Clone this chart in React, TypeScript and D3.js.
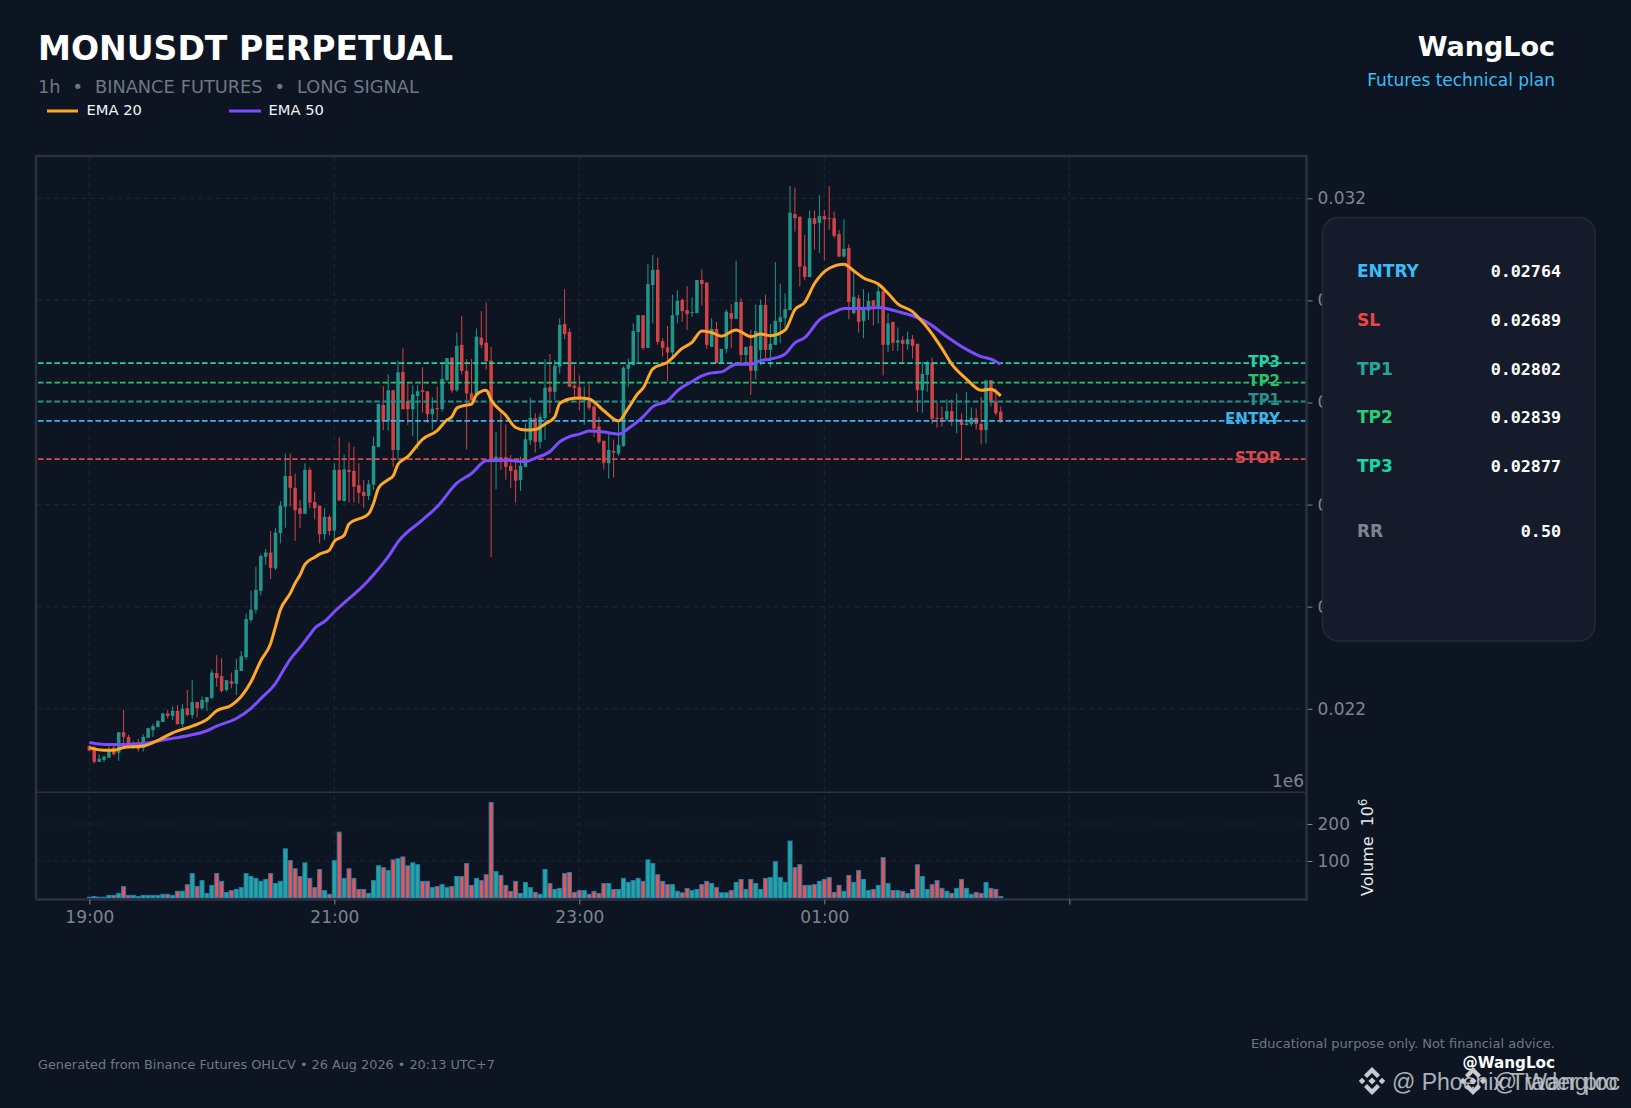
import { useEffect, useRef } from 'react';
import * as d3 from 'd3';

// all prices below are in 1e-5 USDT, volumes in 1e6
const opens = [
  2127,2124,2096,2100,2104,2124,2114,2154,2145,2127,
  2134,2123,2143,2158,2164,2174,2191,2186,2196,2170,
  2201,2188,2213,2201,2213,2221,2270,2264,2237,2254,
  2249,2274,2301,2374,2394,2431,2498,2506,2475,2544,
  2596,2656,2633,2593,2582,2668,2605,2598,2542,2576,
  2549,2668,2607,2668,2666,2638,2625,2617,2639,2713,
  2795,2764,2824,2707,2860,2803,2787,2813,2824,2822,
  2777,2789,2787,2844,2888,2824,2913,2862,2818,2815,
  2927,2917,2882,2687,2693,2693,2676,2668,2648,2674,
  2726,2769,2723,2769,2830,2821,2870,2954,2938,2833,
  2830,2804,2803,2792,2753,2725,2681,2705,2700,2715,
  2866,2873,2938,2971,2907,3030,3060,2920,2908,2898,
  2971,3001,2981,2975,2975,3040,3035,2909,2944,2877,
  2905,2975,2964,2997,2893,2911,2862,2903,2991,2903,
  2913,2958,2965,2981,3169,3164,3067,3046,3161,3152,
  3165,3161,3161,3130,3086,3103,2975,3004,2960,2980,
  3000,2988,3018,2913,2958,2917,2922,2914,2924,2915,
  2824,2854,2878,2770,2770,2767,2783,2763,2767,2756,
  2758,2770,2758,2746,2844,2802,2782,
];
const closes = [
  2118,2096,2102,2106,2119,2111,2154,2145,2132,2134,
  2121,2145,2162,2166,2176,2191,2186,2196,2170,2200,
  2188,2213,2201,2217,2223,2271,2260,2235,2256,2249,
  2276,2303,2376,2394,2433,2499,2506,2476,2545,2598,
  2656,2633,2589,2582,2668,2604,2593,2542,2576,2548,
  2668,2608,2669,2664,2635,2623,2617,2640,2715,2797,
  2764,2824,2707,2859,2787,2787,2816,2822,2821,2777,
  2788,2787,2846,2887,2824,2911,2862,2818,2804,2929,
  2913,2881,2687,2694,2687,2674,2666,2647,2676,2728,
  2770,2723,2772,2829,2821,2872,2952,2934,2831,2829,
  2805,2805,2790,2749,2723,2682,2707,2702,2717,2868,
  2875,2940,2971,2907,3032,3060,2919,2907,2898,2971,
  2999,2979,2973,2977,3040,3032,2913,2944,2877,2905,
  2978,2964,2997,2893,2909,2862,2940,2991,2903,2915,
  2960,2967,2983,3172,3161,3066,3046,3161,3150,3165,
  3159,3160,3126,3086,3101,2997,3007,2958,2982,2999,
  2989,3018,2913,2955,2917,2922,2915,2924,2911,2824,
  2856,2878,2768,2768,2767,2783,2764,2767,2756,2759,
  2770,2758,2746,2843,2802,2779,2762,
];
const highs = [
  2129,2127,2111,2109,2126,2127,2154,2198,2149,2136,
  2141,2150,2163,2171,2178,2192,2198,2205,2207,2209,
  2237,2256,2214,2224,2223,2277,2305,2299,2256,2271,
  2298,2313,2387,2431,2478,2503,2513,2548,2554,2607,
  2700,2700,2661,2609,2681,2673,2625,2598,2593,2580,
  2681,2732,2698,2722,2713,2681,2648,2648,2733,2798,
  2832,2855,2824,2882,2906,2839,2834,2834,2869,2822,
  2811,2831,2879,2887,2888,2937,2969,2885,2885,2945,
  2979,2996,2909,2742,2782,2757,2697,2689,2694,2759,
  2810,2779,2779,2885,2895,2883,2965,3022,2945,2873,
  2853,2831,2836,2798,2772,2725,2738,2727,2766,2871,
  2886,2955,2971,2971,3071,3089,3084,2926,2950,3011,
  3020,3004,3028,3006,3040,3061,3035,2965,2958,2905,
  2982,2993,3078,3004,2909,2942,2992,3002,3011,2954,
  3075,3033,3014,3224,3221,3164,3128,3176,3176,3206,
  3177,3224,3174,3138,3159,3110,3056,3011,3022,3015,
  3001,3033,3027,2975,2958,2947,2930,2939,2932,2915,
  2880,2882,2888,2800,2792,2806,2806,2818,2779,2821,
  2790,2788,2811,2845,2844,2828,2792,
];
const lows = [
  2117,2093,2096,2096,2104,2108,2098,2126,2127,2121,
  2116,2116,2143,2145,2164,2174,2181,2178,2169,2164,
  2185,2181,2183,2198,2196,2219,2243,2232,2234,2240,
  2227,2274,2296,2369,2387,2422,2482,2454,2472,2524,
  2555,2596,2529,2554,2582,2593,2571,2524,2531,2540,
  2531,2607,2606,2604,2604,2602,2594,2609,2629,2712,
  2746,2745,2674,2687,2787,2756,2734,2708,2780,2760,
  2746,2766,2782,2841,2819,2821,2855,2708,2804,2811,
  2906,2865,2497,2630,2668,2649,2632,2604,2627,2673,
  2717,2702,2710,2727,2779,2805,2857,2924,2830,2811,
  2785,2756,2785,2732,2719,2669,2651,2653,2696,2713,
  2831,2873,2878,2903,2907,2955,2913,2890,2842,2890,
  2955,2958,2942,2968,2975,2990,2905,2909,2877,2877,
  2896,2906,2964,2877,2877,2815,2845,2873,2886,2869,
  2913,2916,2942,2981,3135,3027,3040,3046,3100,3093,
  3078,3138,3122,3084,3084,2963,2973,2937,2926,2962,
  2951,2955,2853,2898,2901,2901,2878,2904,2886,2782,
  2780,2821,2758,2751,2753,2764,2754,2740,2691,2755,
  2754,2747,2718,2720,2792,2775,2760,
];
const volumes = [
  2,4,2,2,7,7,12,31,7,7,
  4,7,7,7,7,10,10,7,18,18,
  36,66,31,47,12,34,66,45,15,20,
  23,28,66,58,53,45,50,66,39,45,
  133,101,79,58,95,53,28,77,20,10,
  101,178,53,79,53,23,23,12,47,87,
  82,74,103,106,111,87,95,90,45,45,
  28,31,36,28,31,58,58,93,34,53,
  47,63,258,71,61,34,18,45,12,42,
  28,15,10,77,39,23,26,66,69,15,
  20,20,10,18,12,39,39,23,23,53,
  42,47,53,45,103,93,63,45,36,36,
  18,14,26,20,23,36,45,39,28,14,
  14,20,42,50,23,50,39,23,53,55,
  98,55,42,154,82,90,34,34,36,45,
  50,55,15,34,18,61,42,74,50,20,
  23,34,109,39,20,20,18,12,23,90,
  58,23,36,47,26,18,12,26,50,26,
  10,15,12,42,26,23,4,
];

const ema20Idx = [0,3,5,7,11,14,17,21,24,26,29,31,33,35,37,38,39,41,42,43,44,46,47,49,50,52,53,57,58,59,61,62,63,65,68,71,73,74,75,77,78,79,81,82,85,87,89,91,93,95,96,98,100,102,105,108,110,112,113,115,118,121,123,125,127,129,132,135,137,139,142,144,146,148,151,154,156,158,161,163,165,168,170,171,174,176,179,182,184,186];
const ema20Val = [2124,2119,2119,2124,2127,2138,2153,2166,2179,2196,2207,2224,2253,2294,2328,2361,2394,2426,2446,2462,2483,2497,2503,2511,2528,2540,2562,2582,2602,2632,2649,2656,2679,2694,2728,2745,2766,2772,2789,2795,2797,2815,2824,2805,2775,2751,2746,2747,2758,2772,2798,2807,2809,2807,2784,2764,2789,2818,2828,2866,2879,2906,2918,2940,2937,2930,2942,2929,2934,2931,2942,2982,2996,3033,3063,3071,3058,3044,3032,3014,2993,2978,2958,2947,2906,2875,2846,2824,2826,2813];
const ema50Idx = [0,2,4,7,11,14,17,21,24,26,30,33,35,38,40,41,43,45,46,48,50,57,61,63,68,71,75,78,81,85,89,91,94,96,98,100,102,105,108,110,113,115,118,120,123,125,127,129,132,135,137,139,142,144,146,149,152,154,157,161,165,168,171,175,179,182,184,186];
const ema50Val = [2134,2131,2130,2130,2132,2137,2142,2149,2157,2166,2181,2201,2220,2250,2282,2297,2320,2345,2358,2371,2390,2452,2498,2527,2570,2596,2642,2661,2686,2687,2684,2691,2704,2723,2733,2738,2744,2742,2738,2749,2772,2792,2803,2823,2841,2852,2858,2860,2875,2875,2882,2885,2895,2917,2927,2962,2977,2984,2984,2986,2978,2970,2957,2929,2904,2890,2885,2875];

const priceTicks = [3200,3000,2800,2600,2400,2200];
const volumeTicks = [100,200];
const timeTicks = [0,50,100,150,200];
const timeLabels = ['19:00','21:00','23:00','01:00',''];

const levelNames = ['TP3','TP2','TP1','ENTRY','STOP'];
const levelPrices = [2877,2839,2802,2764,2689];
const levelColors = ['#1ed3a6','#2bbf70','#26908a','#3fb2ea','#d9484b'];

const panelLabels = ['ENTRY','SL','TP1','TP2','TP3','RR'];
const panelValues = ['0.02764','0.02689','0.02802','0.02839','0.02877','0.50'];
const panelColors = ['#38bdf8','#ef4444','#26a69a','#2ecc71','#14d8a5','#7d8490'];
const panelRows = [277,326,374.5,423,471.5,536.5];

const FONT = '"DejaVu Sans", sans-serif';
const UP = '#26a69a';
const DOWN = '#ef5350';
const MUTED = '#7d8490';
const FRAME = '#2a3040';
const GRID = '#1d2431';

const App = () => {
  const ref = useRef<SVGSVGElement>(null);

  useEffect(() => {
    const svg = d3.select(ref.current);
    svg.selectAll('*').remove();

    const left = 36;
    const right = 1306.5;
    const top = 156;
    const divider = 792.3;
    const bottom = 899.5;

    const x = d3.scaleLinear().domain([-10.88, 248.4]).range([left, right]);
    const y = d3.scaleLinear().domain([2036.4, 3282.9]).range([divider, top]);
    const yVol = d3.scaleLinear().domain([0, 285.7]).range([898, divider]);

    svg.append('rect').attr('width', 1631).attr('height', 1108).attr('fill', '#0d1522');

    // grid
    const grid = svg.append('g').attr('stroke', GRID).attr('stroke-width', 1.2).attr('stroke-dasharray', '5 4').attr('fill', 'none');
    timeTicks.forEach((t) => {
      grid.append('line').attr('x1', x(t)).attr('x2', x(t)).attr('y1', top).attr('y2', bottom);
    });
    priceTicks.forEach((t) => {
      grid.append('line').attr('x1', left).attr('x2', right).attr('y1', y(t)).attr('y2', y(t));
    });
    volumeTicks.forEach((t) => {
      grid.append('line').attr('x1', left).attr('x2', right).attr('y1', yVol(t)).attr('y2', yVol(t));
    });

    // candles
    const idx = d3.range(opens.length);
    const candleColor = (i: number) => (closes[i] >= opens[i] ? '#20968b' : '#d24347');
    svg.append('g').selectAll('line').data(idx).join('line')
      .attr('x1', (i) => x(i)).attr('x2', (i) => x(i))
      .attr('y1', (i) => y(highs[i])).attr('y2', (i) => y(lows[i]))
      .attr('stroke', candleColor).attr('stroke-width', 1);
    svg.append('g').selectAll('rect').data(idx).join('rect')
      .attr('x', (i) => x(i) - 1.75).attr('width', 3.5)
      .attr('y', (i) => y(Math.max(opens[i], closes[i])))
      .attr('height', (i) => Math.max(1, Math.abs(y(opens[i]) - y(closes[i]))))
      .attr('fill', candleColor);

    // volume
    svg.append('g').selectAll('rect').data(idx).join('rect')
      .attr('x', (i) => x(i) - 2).attr('width', 4)
      .attr('y', (i) => yVol(volumes[i]))
      .attr('height', (i) => 898 - yVol(volumes[i]))
      .attr('fill', (i) => (closes[i] >= opens[i] ? UP : DOWN))
      .attr('stroke', '#1f7fb4').attr('stroke-width', 1);

    // levels
    levelNames.forEach((name, i) => {
      svg.append('line')
        .attr('x1', left + 2).attr('x2', right)
        .attr('y1', y(levelPrices[i])).attr('y2', y(levelPrices[i]))
        .attr('stroke', levelColors[i]).attr('stroke-width', 1.8).attr('stroke-dasharray', '5.6 2.6');
      svg.append('text')
        .attr('x', 1280).attr('y', y(levelPrices[i]) + 3.5)
        .attr('text-anchor', 'end').attr('font-family', FONT).attr('font-weight', 'bold').attr('font-size', 15.1)
        .attr('fill', levelColors[i]).text(name);
    });

    // EMAs
    const line = d3.line<number>().x((d) => x(d)).curve(d3.curveMonotoneX);
    svg.append('path')
      .attr('d', line.y((_, k) => y(ema50Val[k]))(ema50Idx))
      .attr('fill', 'none').attr('stroke', '#7c4dff').attr('stroke-width', 3);
    svg.append('path')
      .attr('d', line.y((_, k) => y(ema20Val[k]))(ema20Idx))
      .attr('fill', 'none').attr('stroke', '#ffa726').attr('stroke-width', 3);

    // frame
    const frame = svg.append('g').attr('stroke', FRAME).attr('stroke-width', 2.5).attr('fill', 'none');
    frame.append('path').attr('d', `M${left},${bottom}V${top}H${right}V${bottom}H${left}`);
    frame.append('line').attr('x1', left).attr('x2', right).attr('y1', divider).attr('y2', divider).attr('stroke-width', 1.6);

    // axes
    const axisText = (g: d3.Selection<SVGGElement, unknown, null, undefined>) => {
      g.select('.domain').remove();
      g.selectAll('line').attr('stroke', MUTED).attr('stroke-width', 1);
      g.selectAll('text').attr('fill', MUTED).attr('font-family', FONT).attr('font-size', 17);
    };
    svg.append('g').attr('transform', `translate(${right + 1},0)`)
      .call(d3.axisRight(y).tickValues(priceTicks).tickSize(5).tickPadding(5).tickFormat((d) => (+d / 1e5).toFixed(3)) as any)
      .call(axisText as any);
    svg.append('g').attr('transform', `translate(${right + 1},0)`)
      .call(d3.axisRight(yVol).tickValues(volumeTicks).tickSize(5).tickPadding(5).tickFormat((d) => String(d)) as any)
      .call(axisText as any);
    svg.append('g').attr('transform', `translate(0,${bottom})`)
      .call(d3.axisBottom(x).tickValues(timeTicks).tickSize(5).tickPadding(6).tickFormat((_, k) => timeLabels[k]) as any)
      .call(axisText as any);

    const text = (
      t: string, px: number, py: number, size: number, fill: string,
      opts: { bold?: boolean; anchor?: string; family?: string } = {}
    ) =>
      svg.append('text')
        .attr('x', px).attr('y', py)
        .attr('font-family', opts.family || FONT)
        .attr('font-size', size)
        .attr('font-weight', opts.bold ? 'bold' : 'normal')
        .attr('text-anchor', opts.anchor || 'start')
        .attr('fill', fill)
        .style('white-space', 'pre')
        .text(t);

    text('1e6', 1304, 787, 17, MUTED, { anchor: 'end' });
    const volLabel = text('Volume  10', 0, 0, 16, '#e5e7eb')
      .attr('transform', 'translate(1372.5,896) rotate(-90)');
    volLabel.append('tspan').attr('dy', -6).attr('font-size', 11.5).text('6');

    // side panel
    svg.append('rect')
      .attr('x', 1322.5).attr('y', 217.5).attr('width', 272.5).attr('height', 423.5).attr('rx', 16)
      .attr('fill', '#151b2a').attr('stroke', '#232a38').attr('stroke-width', 1.5);
    panelLabels.forEach((name, i) => {
      text(name, 1357, panelRows[i], 17, panelColors[i], { bold: true });
      text(panelValues[i], 1561, panelRows[i], 16.7, '#ffffff', { bold: true, anchor: 'end', family: '"DejaVu Sans Mono", monospace' });
    });

    // header
    text('MONUSDT PERPETUAL', 38, 60, 33.1, '#ffffff', { bold: true });
    text('1h  \u2022  BINANCE FUTURES  \u2022  LONG SIGNAL', 38, 92.5, 17.76, '#6f7785').attr('word-spacing', 0.35);
    svg.append('line').attr('x1', 47).attr('x2', 78).attr('y1', 111).attr('y2', 111).attr('stroke', '#ffa726').attr('stroke-width', 3);
    text('EMA 20', 86.5, 115, 14.7, '#f3f4f6');
    svg.append('line').attr('x1', 229).attr('x2', 261).attr('y1', 111).attr('y2', 111).attr('stroke', '#7c4dff').attr('stroke-width', 3);
    text('EMA 50', 268.5, 115, 14.7, '#f3f4f6');
    text('WangLoc', 1555, 56, 27, '#ffffff', { bold: true, anchor: 'end' });
    text('Futures technical plan', 1555, 86, 17, '#38bdf8', { anchor: 'end' });

    // footer
    text('Generated from Binance Futures OHLCV \u2022 26 Aug 2026 \u2022 20:13 UTC+7', 38, 1069, 12.83, '#6f7785');
    text('Educational purpose only. Not financial advice.', 1555, 1048, 13, '#6f7785', { anchor: 'end' });
    text('@WangLoc', 1555, 1068, 15.2, '#ffffff', { bold: true, anchor: 'end' });

    // watermark
    const logo = (cx: number, cy: number) => {
      const g = svg.append('g').attr('transform', `translate(${cx},${cy})`).attr('fill', '#c8ccd2');
      const diamond = (dx: number, dy: number, r: number) =>
        g.append('path').attr('d', `M${dx - r},${dy}L${dx},${dy - r}L${dx + r},${dy}L${dx},${dy + r}Z`);
      diamond(0, 0, 3.6);
      diamond(-10, 0, 3.2);
      diamond(10, 0, 3.2);
      g.append('path').attr('d', 'M0,-14L8,-6L5,-3L0,-8L-5,-3L-8,-6Z');
      g.append('path').attr('d', 'M0,14L8,6L5,3L0,8L-5,3L-8,6Z');
    };
    logo(1372, 1081);
    logo(1473, 1081);
    text('@ Phoenix Trader pro', 1392, 1090, 23, '#c8ccd2', { family: '"Liberation Sans", sans-serif' }).attr('opacity', 0.85);
    text('@ Wangloc', 1621, 1090, 23, '#c8ccd2', { anchor: 'end', family: '"Liberation Sans", sans-serif' })
      .attr('letter-spacing', 1).attr('opacity', 0.85);
  }, []);

  return (
    <svg
      ref={ref}
      width={1631}
      height={1108}
      style={{ position: 'absolute', left: 0, top: 0, display: 'block' }}
    />
  );
};

export default App;
